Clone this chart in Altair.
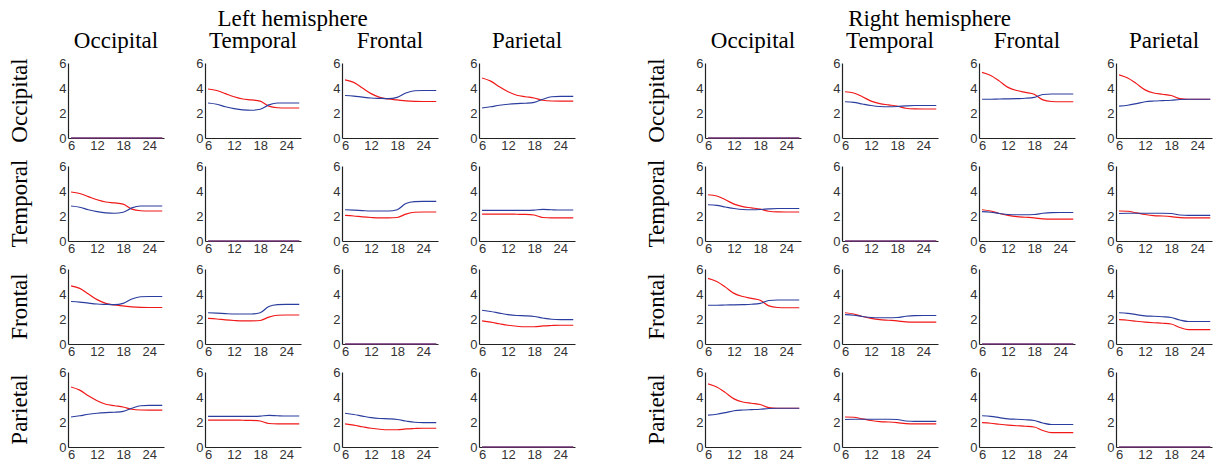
import altair as alt
import pandas as pd

regions = ["Occipital", "Temporal", "Frontal", "Parietal"]
months = [6, 8, 10, 12, 14, 16, 18, 20, 22, 24, 27]

# Left hemisphere (symmetric matrix: pair values)
L_OT_red = [3.92, 3.80, 3.55, 3.30, 3.12, 3.05, 2.95, 2.55, 2.42, 2.40, 2.40]
L_OT_blue = [2.80, 2.70, 2.50, 2.35, 2.25, 2.22, 2.30, 2.65, 2.80, 2.80, 2.80]
L_OF_red = [4.65, 4.45, 4.00, 3.55, 3.25, 3.12, 3.05, 2.97, 2.93, 2.92, 2.92]
L_OF_blue = [3.40, 3.35, 3.27, 3.20, 3.17, 3.15, 3.25, 3.60, 3.78, 3.80, 3.80]
L_OP_red = [4.80, 4.55, 4.10, 3.70, 3.42, 3.30, 3.20, 3.02, 2.96, 2.95, 2.95]
L_OP_blue = [2.40, 2.50, 2.62, 2.70, 2.75, 2.78, 2.85, 3.10, 3.30, 3.33, 3.33]
L_TF_red = [2.05, 2.00, 1.93, 1.88, 1.85, 1.85, 1.88, 2.15, 2.30, 2.32, 2.32]
L_TF_blue = [2.50, 2.47, 2.43, 2.40, 2.40, 2.40, 2.50, 3.00, 3.15, 3.17, 3.17]
L_TP_red = [2.15, 2.15, 2.15, 2.15, 2.14, 2.13, 2.08, 1.88, 1.85, 1.85, 1.85]
L_TP_blue = [2.45, 2.45, 2.45, 2.45, 2.45, 2.45, 2.47, 2.53, 2.50, 2.48, 2.48]
L_FP_red = [1.85, 1.75, 1.62, 1.50, 1.42, 1.38, 1.38, 1.45, 1.48, 1.50, 1.50]
L_FP_blue = [2.70, 2.60, 2.47, 2.35, 2.28, 2.25, 2.20, 2.08, 1.98, 1.95, 1.95]

# Right hemisphere
R_OT_red = [3.70, 3.60, 3.30, 2.95, 2.75, 2.65, 2.55, 2.38, 2.33, 2.32, 2.32]
R_OT_blue = [2.90, 2.85, 2.72, 2.60, 2.52, 2.50, 2.52, 2.57, 2.60, 2.60, 2.60]
R_OF_red = [5.25, 5.00, 4.55, 4.05, 3.80, 3.65, 3.50, 3.05, 2.92, 2.90, 2.90]
R_OF_blue = [3.10, 3.10, 3.12, 3.13, 3.15, 3.18, 3.25, 3.48, 3.52, 3.52, 3.52]
R_OP_red = [5.05, 4.80, 4.35, 3.85, 3.60, 3.50, 3.40, 3.15, 3.10, 3.10, 3.10]
R_OP_blue = [2.55, 2.62, 2.75, 2.90, 2.96, 2.99, 3.02, 3.08, 3.10, 3.10, 3.10]
R_TF_red = [2.50, 2.40, 2.20, 2.05, 1.95, 1.90, 1.85, 1.77, 1.75, 1.75, 1.75]
R_TF_blue = [2.35, 2.30, 2.20, 2.12, 2.10, 2.10, 2.12, 2.22, 2.27, 2.28, 2.28]
R_TP_red = [2.40, 2.38, 2.25, 2.12, 2.03, 2.00, 1.95, 1.87, 1.85, 1.85, 1.85]
R_TP_blue = [2.20, 2.22, 2.22, 2.22, 2.22, 2.22, 2.20, 2.08, 2.05, 2.05, 2.05]
R_FP_red = [1.95, 1.90, 1.82, 1.75, 1.70, 1.66, 1.60, 1.32, 1.15, 1.15, 1.15]
R_FP_blue = [2.50, 2.45, 2.35, 2.25, 2.22, 2.18, 2.12, 1.92, 1.80, 1.80, 1.80]

diag_zero = [0.0] * len(months)

left_pairs = {
    ("Occipital", "Temporal"): (L_OT_red, L_OT_blue),
    ("Occipital", "Frontal"): (L_OF_red, L_OF_blue),
    ("Occipital", "Parietal"): (L_OP_red, L_OP_blue),
    ("Temporal", "Frontal"): (L_TF_red, L_TF_blue),
    ("Temporal", "Parietal"): (L_TP_red, L_TP_blue),
    ("Frontal", "Parietal"): (L_FP_red, L_FP_blue),
}
right_pairs = {
    ("Occipital", "Temporal"): (R_OT_red, R_OT_blue),
    ("Occipital", "Frontal"): (R_OF_red, R_OF_blue),
    ("Occipital", "Parietal"): (R_OP_red, R_OP_blue),
    ("Temporal", "Frontal"): (R_TF_red, R_TF_blue),
    ("Temporal", "Parietal"): (R_TP_red, R_TP_blue),
    ("Frontal", "Parietal"): (R_FP_red, R_FP_blue),
}


def build_df(pairs):
    rows = []
    for series_idx, series in enumerate(["red", "blue"]):
        for r in regions:
            for c in regions:
                if r == c:
                    vals = diag_zero
                else:
                    key = (r, c) if (r, c) in pairs else (c, r)
                    vals = pairs[key][series_idx]
                for m, v in zip(months, vals):
                    rows.append({"row": r, "col": c, "series": series,
                                 "month": m, "value": v})
    return pd.DataFrame(rows)


SERIF = "Liberation Serif"
SANS = "Liberation Sans"


def hemi_chart(df, title):
    base = alt.Chart(df).mark_line(strokeWidth=1.2, interpolate="monotone").encode(
        x=alt.X("month:Q",
                scale=alt.Scale(domain=[5.3, 27.4], nice=False, zero=False),
                axis=alt.Axis(values=[6, 12, 18, 24], title=None, labelFlush=False,
                              labelPadding=1)),
        y=alt.Y("value:Q",
                scale=alt.Scale(domain=[0, 6], nice=False),
                axis=alt.Axis(values=[0, 2, 4, 6], title=None)),
        color=alt.Color("series:N",
                        scale=alt.Scale(domain=["red", "blue"],
                                        range=["#f01818", "#2b3d9e"]),
                        legend=None),
    ).properties(width=96, height=75)
    return base.facet(
        row=alt.Row("row:N", sort=regions, title=None,
                    header=alt.Header(labelFont=SERIF, labelFontSize=23,
                                      labelColor="black", labelAngle=270,
                                      labelOrient="left", labelPadding=13)),
        column=alt.Column("col:N", sort=regions, title=None,
                          header=alt.Header(labelFont=SERIF, labelFontSize=23,
                                            labelColor="black", labelPadding=10)),
        spacing={"row": 28, "column": 41},
        bounds="flush",
        title=alt.TitleParams(title, font=SERIF, fontSize=23, fontWeight="normal",
                              color="black", anchor="middle", offset=-1),
    ).resolve_axis(x="independent", y="independent")


left = hemi_chart(build_df(left_pairs), "Left hemisphere")
right = hemi_chart(build_df(right_pairs), "Right hemisphere")

chart = alt.hconcat(left, right, spacing=68).properties(padding=0).configure_view(
    stroke="transparent"
).configure_axis(
    grid=False, ticks=False, domainColor="#222222", domainWidth=1.2,
    labelFont=SANS, labelFontSize=13, labelColor="#333333", labelPadding=2,
)

chart.save("out.html", embed_options={"renderer": "svg", "actions": False})
